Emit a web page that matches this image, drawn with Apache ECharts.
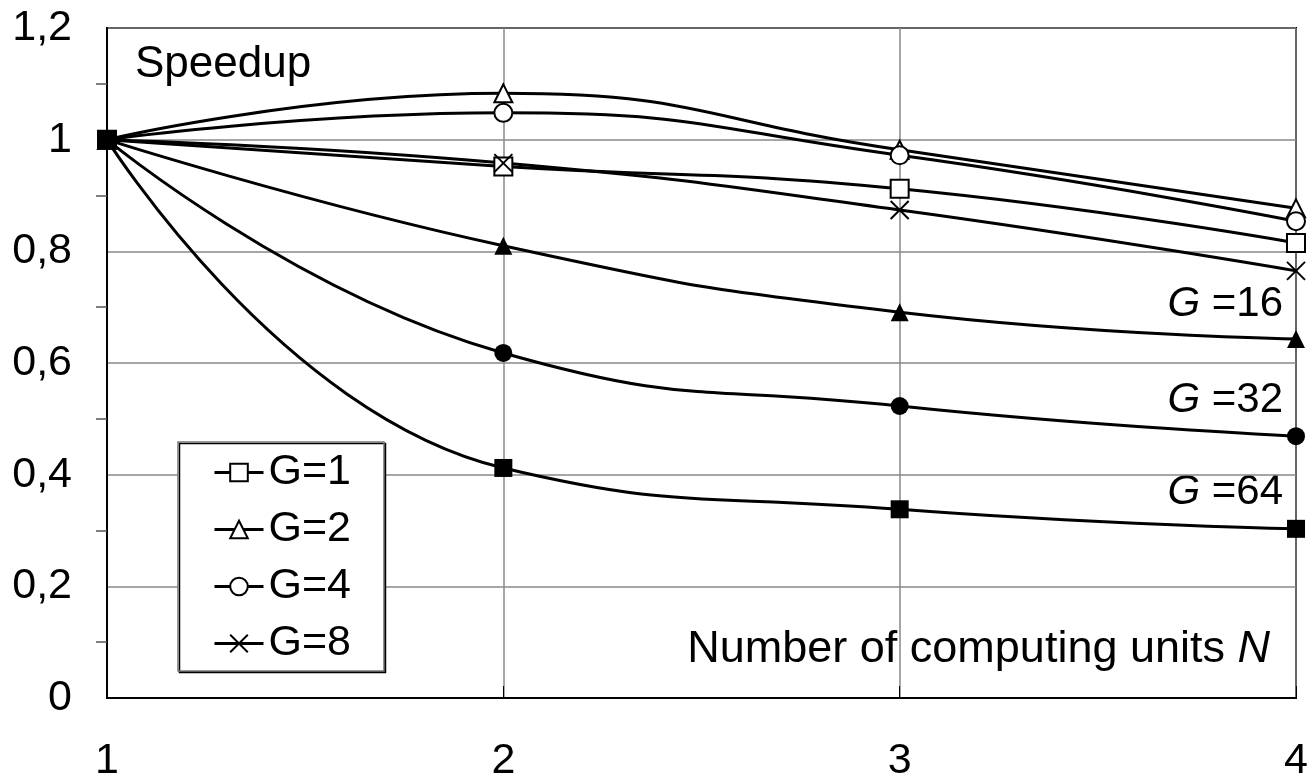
<!DOCTYPE html>
<html>
<head>
<meta charset="utf-8">
<script src="https://cdn.jsdelivr.net/npm/echarts@6/dist/echarts.min.js"></script>
<style>
  html, body { margin: 0; padding: 0; background: #fff; }
  #chart { width: 1309px; height: 778px; }
</style>
</head>
<body>
<div id="chart"></div>
<script>
// computing units N
var units = [1, 2, 3, 4];
// speedup per group size G
var g1 = [1, 0.952, 0.912, 0.815];
var g2 = [1, 1.083, 0.982, 0.877];
var g4 = [1, 1.048, 0.972, 0.854];
var g8 = [1, 0.958, 0.874, 0.765];
var g16 = [1, 0.810, 0.691, 0.643];
var g32 = [1, 0.618, 0.523, 0.469];
var g64 = [1, 0.412, 0.338, 0.303];

var font = 'Liberation Sans, Arial, sans-serif';

function pairs(arr) {
  return arr.map(function (v, i) { return [units[i], v]; });
}

function line(name, data, symbol, fill) {
  return {
    name: name,
    type: 'line',
    data: pairs(data),
    smooth: 0.5,
    symbol: symbol,
    symbolSize: 18,
    showAllSymbol: true,
    color: '#000',
    lineStyle: { color: '#000', width: 3 },
    itemStyle: {
      color: fill,
      borderColor: '#000',
      borderWidth: fill === '#000' ? 0 : 2
    },
    emphasis: { disabled: true },
    animation: false
  };
}

function italicG(txt) {
  return {
    text: '{i|G} ' + txt,
    font: '42px ' + font,
    fill: '#000',
    rich: { i: { fontStyle: 'italic', fontSize: 42, fontFamily: font } }
  };
}

var chart = echarts.init(document.getElementById('chart'));

var option = {
  backgroundColor: '#fff',
  animation: false,
  textStyle: { fontFamily: font, color: '#000' },
  grid: {
    left: 107,
    right: 13,
    top: 28,
    bottom: 80,
    outerBoundsMode: 'none',
    containLabel: false,
    show: true,
    borderColor: '#000',
    borderWidth: 2,
    backgroundColor: 'transparent'
  },
  xAxis: {
    type: 'value',
    min: 1,
    max: 4,
    interval: 1,
    axisLine: { show: true, lineStyle: { color: '#000', width: 2 } },
    axisTick: { show: true, inside: true, length: 12, lineStyle: { color: '#000', width: 1 } },
    splitLine: { show: true, lineStyle: { color: '#888', width: 1.5 } },
    axisLabel: {
      fontSize: 43,
      fontFamily: font,
      color: '#000',
      margin: 42,
      formatter: function (v) { return String(v); }
    }
  },
  yAxis: {
    type: 'value',
    min: 0,
    max: 1.2,
    interval: 0.2,
    axisLine: { show: true, lineStyle: { color: '#000', width: 2 } },
    axisTick: { show: false },
    minorTick: { show: true, splitNumber: 2, length: 11, lineStyle: { color: '#555', width: 1.5 } },
    splitLine: { show: true, lineStyle: { color: '#888', width: 1.5 } },
    axisLabel: {
      fontSize: 43,
      fontFamily: font,
      color: '#000',
      margin: 35,
      formatter: function (v) {
        return String(+v.toFixed(1)).replace('.', ',');
      }
    }
  },
  legend: {
    data: ['G=1', 'G=2', 'G=4', 'G=8'],
    orient: 'vertical',
    left: 178,
    top: 442,
    padding: [9, 33, 6, 35],
    itemWidth: 49,
    itemHeight: 22,
    itemGap: 14,
    backgroundColor: '#fff',
    borderColor: '#777',
    borderWidth: 1.5,
    shadowColor: '#000',
    shadowBlur: 0,
    shadowOffsetX: 1.5,
    shadowOffsetY: 1.5,
    selectedMode: false,
    lineStyle: { width: 3 },
    textStyle: { fontSize: 43, fontFamily: font, color: '#000' }
  },
  graphic: [
    {
      type: 'text',
      left: 135,
      top: 43,
      style: { text: 'Speedup', font: '44px ' + font, fill: '#000' }
    },
    {
      type: 'text',
      right: 39,
      top: 627,
      style: {
        text: 'Number of computing units {i|N}',
        font: '45px ' + font,
        fill: '#000',
        rich: { i: { fontStyle: 'italic', fontSize: 45, fontFamily: font } }
      }
    },
    { type: 'text', right: 26, top: 283, style: italicG('=16') },
    { type: 'text', right: 26, top: 379, style: italicG('=32') },
    { type: 'text', right: 26, top: 471, style: italicG('=64') }
  ],
  series: [
    line('G=1', g1, 'rect', '#fff'),
    line('G=2', g2, 'triangle', '#fff'),
    line('G=4', g4, 'circle', '#fff'),
    line('G=8', g8, 'path://M0,0L10,10M10,0L0,10', 'rgba(0,0,0,0)'),
    line('G=16', g16, 'triangle', '#000'),
    line('G=32', g32, 'circle', '#000'),
    line('G=64', g64, 'rect', '#000')
  ]
};

chart.setOption(option);
</script>
</body>
</html>
